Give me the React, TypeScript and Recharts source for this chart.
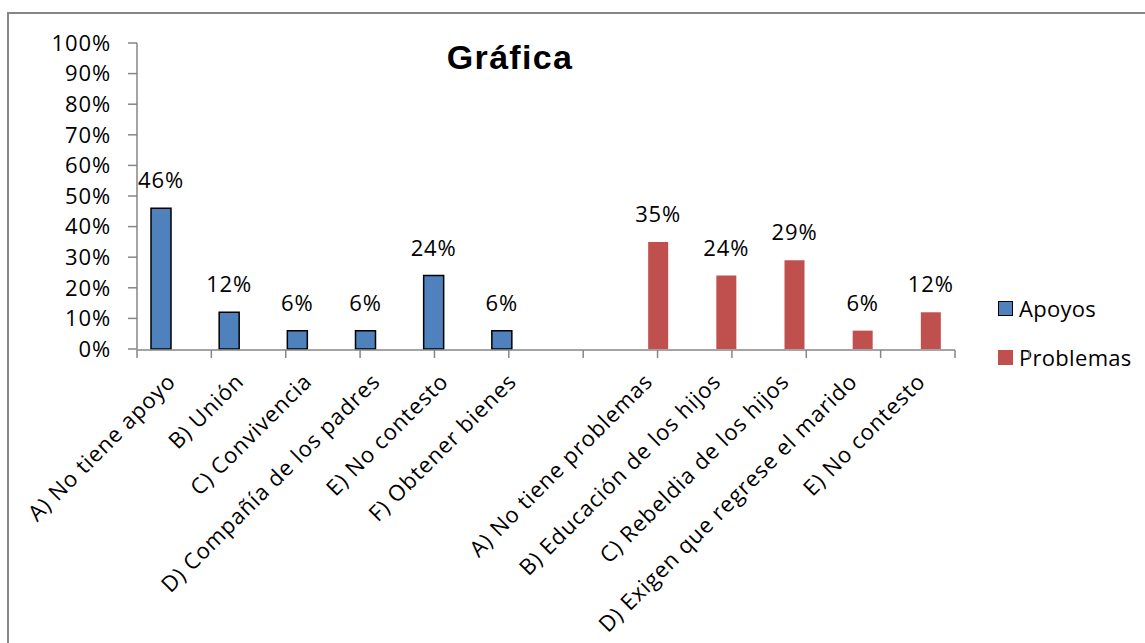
import React from 'react';
import { BarChart, Bar, XAxis, YAxis, LabelList } from 'recharts';

const categories = [
  'A) No tiene apoyo',
  'B) Unión',
  'C) Convivencia',
  'D) Compañía de los padres',
  'E) No contesto',
  'F) Obtener bienes',
  '',
  'A) No tiene problemas',
  'B) Educación de los hijos',
  'C) Rebeldia de los hijos',
  'D) Exigen que regrese el marido',
  'E) No contesto',
];
const apoyos: (number | null)[] = [46, 12, 6, 6, 24, 6, null, null, null, null, null, null];
const problemas: (number | null)[] = [null, null, null, null, null, null, null, 35, 24, 29, 6, 12];
const yTicks = [0, 10, 20, 30, 40, 50, 60, 70, 80, 90, 100];
const boundaryTicks = [0, 1, 2, 3, 4, 5, 6, 7, 8, 9, 10, 11, 12];
const title = 'Gráfica';
const seriesNames = ['Apoyos', 'Problemas'];

const data = categories.map((name, i) => ({
  name,
  Apoyos: apoyos[i],
  Problemas: problemas[i],
}));

const FONT = '"Open Sans", sans-serif';
const FS = 22;
const LS = 0.9;
const GRAY = '#868686';
const BLUE = '#4F81BD';
const RED = '#C0504D';
const seriesColors = [BLUE, RED];

const XTick = (props: any) => {
  const { x, y, payload } = props;
  return (
    <g transform={`translate(${x + 2},${y + 30})`}>
      <text
        transform="rotate(-45)"
        x={0}
        y={0}
        dy="0.25em"
        textAnchor="end"
        fill="#000"
        fontSize={FS}
        fontFamily={FONT}
        style={{ letterSpacing: `${LS}px` }}
      >
        {payload.value}
      </text>
    </g>
  );
};

const NoTick = () => <g />;

const fmt = (v: any) => (v == null ? '' : `${v}%`);

export default function App() {
  return (
    <div
      style={{
        position: 'absolute',
        left: 0,
        top: 0,
        width: 1145,
        height: 643,
        overflow: 'hidden',
        background: '#fff',
      }}
    >
      <div
        style={{
          position: 'absolute',
          left: 7,
          top: 12,
          width: 2000,
          height: 2000,
          borderTop: `2px solid ${GRAY}`,
          borderLeft: `2px solid ${GRAY}`,
        }}
      />
      <div
        style={{
          position: 'absolute',
          left: 360,
          top: 40,
          width: 300,
          textAlign: 'center',
          fontFamily: '"Liberation Sans", Arial, sans-serif',
          fontWeight: 'bold',
          fontSize: 34,
          lineHeight: '34px',
          letterSpacing: '1.3px',
          color: '#000',
        }}
      >
        {title}
      </div>
      <div
        style={{
          position: 'absolute',
          left: 998,
          top: 294,
          fontFamily: FONT,
          fontSize: FS,
          letterSpacing: '0.3px',
          color: '#000',
        }}
      >
        {seriesNames.map((n, i) => (
          <div
            key={n}
            style={{ display: 'flex', alignItems: 'center', height: 28, marginBottom: 21 }}
          >
            <span
              style={{
                display: 'inline-block',
                width: 15,
                height: 15,
                boxSizing: 'border-box',
                background: seriesColors[i],
                border: i === 0 ? '1.5px solid #000' : 'none',
                marginRight: 6,
              }}
            />
            <span>{n}</span>
          </div>
        ))}
      </div>
      <div style={{ position: 'absolute', left: 0, top: 0 }}>
        <BarChart
          width={1145}
          height={643}
          data={data}
          margin={{ top: 43, left: 77, right: 190, bottom: 292 }}
          barSize={20}
          barGap={0}
        >
          <XAxis
            xAxisId="bounds"
            type="number"
            domain={[0, 12]}
            allowDataOverflow
            ticks={boundaryTicks}
            interval={0}
            tick={NoTick}
            tickLine={{ stroke: GRAY, strokeWidth: 1.5 }}
            tickSize={8}
            axisLine={{ stroke: GRAY, strokeWidth: 1.5 }}
            height={1}
          />
          <XAxis
            dataKey="name"
            interval={0}
            tickLine={false}
            tickSize={0}
            tickMargin={0}
            axisLine={false}
            height={1}
            tick={<XTick />}
          />
          <YAxis
            domain={[0, 100]}
            ticks={yTicks}
            interval={0}
            tickFormatter={(v: number) => `${v}%`}
            width={60}
            tickSize={9}
            tickMargin={17}
            axisLine={{ stroke: GRAY, strokeWidth: 1.5 }}
            tickLine={{ stroke: GRAY, strokeWidth: 1.5 }}
            tick={{ fill: '#000', fontSize: FS, fontFamily: FONT, style: { letterSpacing: `${LS}px` } }}
          />
          <Bar
            dataKey="Apoyos"
            fill={BLUE}
            stroke="#000"
            strokeWidth={1.5}
            isAnimationActive={false}
          >
            <LabelList
              dataKey="Apoyos"
              position="top"
              offset={20}
              formatter={fmt}
              fill="#000"
              fontSize={FS}
              fontFamily={FONT}
              style={{ letterSpacing: `${LS}px` }}
            />
          </Bar>
          <Bar dataKey="Problemas" fill={RED} isAnimationActive={false}>
            <LabelList
              dataKey="Problemas"
              position="top"
              offset={20}
              formatter={fmt}
              fill="#000"
              fontSize={FS}
              fontFamily={FONT}
              style={{ letterSpacing: `${LS}px` }}
            />
          </Bar>
        </BarChart>
      </div>
    </div>
  );
}
